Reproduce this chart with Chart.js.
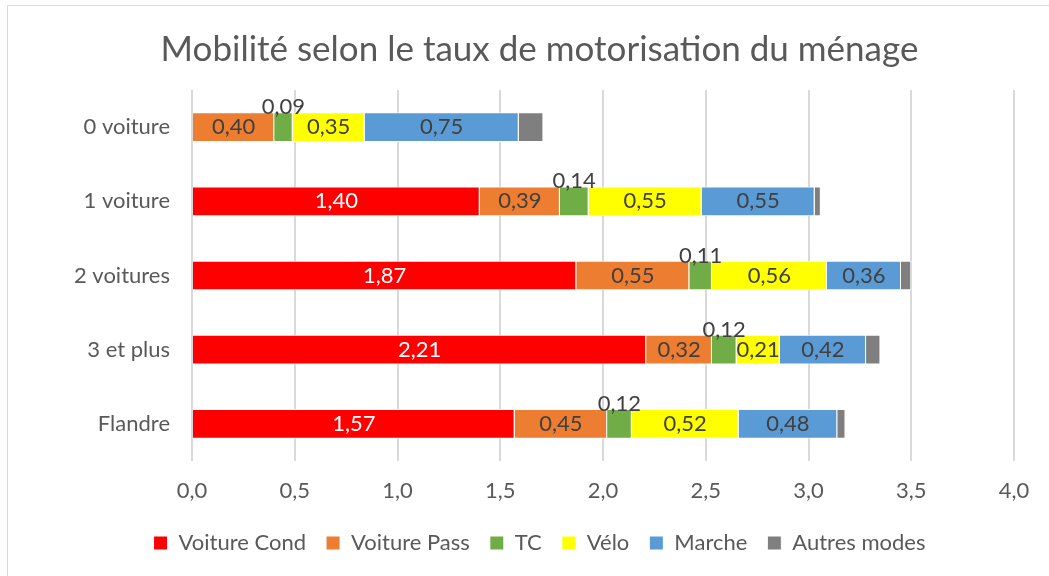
<!DOCTYPE html>
<html>
<head>
<meta charset="utf-8">
<script src="https://cdn.jsdelivr.net/npm/chart.js@4/dist/chart.umd.min.js"></script>
<style>
  html, body { margin: 0; padding: 0; background: #fff; }
  #wrap { width: 1049px; height: 576px; }
</style>
</head>
<body>
<div id="wrap"><canvas id="chart"></canvas></div>
<script>
// DATA
const categories = ['0 voiture', '1 voiture', '2 voitures', '3 et plus', 'Flandre'];
const voitureCond = [0, 1.40, 1.87, 2.21, 1.57];
const voiturePass = [0.40, 0.39, 0.55, 0.32, 0.45];
const tc = [0.09, 0.14, 0.11, 0.12, 0.12];
const velo = [0.35, 0.55, 0.56, 0.21, 0.52];
const marche = [0.75, 0.55, 0.36, 0.42, 0.48];
const autresModes = [0.12, 0.03, 0.05, 0.07, 0.04];
const xTicks = [0, 0.5, 1, 1.5, 2, 2.5, 3, 3.5, 4];

const FONT = 'Lato, "Open Sans", sans-serif';
const GREY_TEXT = '#595959';

// label colour per series, null = no label, 'above' puts the label on top of the bar
const series = [
  { label: 'Voiture Cond', data: voitureCond, color: '#FF0000', text: '#FFFFFF' },
  { label: 'Voiture Pass', data: voiturePass, color: '#ED7D31', text: '#404040' },
  { label: 'TC', data: tc, color: '#70AD47', text: '#404040', above: true },
  { label: 'Vélo', data: velo, color: '#FFFF00', text: '#404040' },
  { label: 'Marche', data: marche, color: '#5B9BD5', text: '#404040' },
  { label: 'Autres modes', data: autresModes, color: '#7F7F7F', text: null }
];

const fmt = v => v.toFixed(2).replace('.', ',');

// Frame: only the left and top edges fall inside the picture
const framePlugin = {
  id: 'frame',
  beforeDraw(chart) {
    const c = chart.ctx;
    c.save();
    c.fillStyle = '#fff';
    c.fillRect(0, 0, chart.width, chart.height);
    c.strokeStyle = '#d9d9d9';
    c.lineWidth = 1;
    c.strokeRect(7.5, 5.5, chart.width, chart.height);
    c.restore();
  }
};

// Value labels inside the segments
const valueLabels = {
  id: 'valueLabels',
  afterDatasetsDraw(chart) {
    const c = chart.ctx;
    c.save();
    c.font = '22px ' + FONT;
    c.textAlign = 'center';
    chart.data.datasets.forEach((ds, i) => {
      const s = series[i];
      if (!s.text) return;
      chart.getDatasetMeta(i).data.forEach((bar, j) => {
        const v = ds.data[j];
        if (!v) return;
        const x = (bar.x + bar.base) / 2;
        c.fillStyle = s.text;
        if (s.above) {
          c.textBaseline = 'alphabetic';
          c.fillText(fmt(v), x, bar.y - bar.height / 2 + 2);
        } else {
          c.textBaseline = 'middle';
          c.fillText(fmt(v), x, bar.y);
        }
      });
    });
    c.restore();
  }
};

new Chart(document.getElementById('chart').getContext('2d'), {
  type: 'bar',
  data: {
    labels: categories,
    datasets: series.map(s => ({
      label: s.label,
      data: s.data,
      backgroundColor: s.color,
      borderColor: '#ffffff',
      borderWidth: 1,
      barPercentage: 0.4,
      categoryPercentage: 1
    }))
  },
  options: {
    indexAxis: 'y',
    responsive: true,
    maintainAspectRatio: false,
    animation: false,
    layout: { padding: { left: 30, right: 0, top: 0, bottom: 12 } },
    plugins: {
      title: {
        display: true,
        text: 'Mobilité selon le taux de motorisation du ménage',
        color: GREY_TEXT,
        font: { family: FONT, size: 35, weight: 'normal' },
        padding: { top: 29, bottom: 19 }
      },
      legend: {
        position: 'bottom',
        labels: {
          color: GREY_TEXT,
          font: { family: FONT, size: 22 },
          boxWidth: 14,
          boxHeight: 14,
          padding: 20
        }
      },
      tooltip: { enabled: false }
    },
    scales: {
      x: {
        stacked: true,
        min: 0,
        max: 4,
        afterBuildTicks: axis => { axis.ticks = xTicks.map(v => ({ value: v })); },
        ticks: {
          color: GREY_TEXT,
          font: { family: FONT, size: 22 },
          padding: 17,
          callback: v => v.toFixed(1).replace('.', ',')
        },
        grid: { color: '#d9d9d9', lineWidth: 2, drawTicks: false },
        border: { display: false },
        afterFit: axis => { axis.height = 51; axis.paddingRight = 35; }
      },
      y: {
        stacked: true,
        ticks: {
          color: GREY_TEXT,
          font: { family: FONT, size: 22 },
          padding: 14
        },
        grid: { display: false },
        border: { display: false },
        afterFit: axis => { axis.width = 162; }
      }
    }
  },
  plugins: [framePlugin, valueLabels]
});
</script>
</body>
</html>
